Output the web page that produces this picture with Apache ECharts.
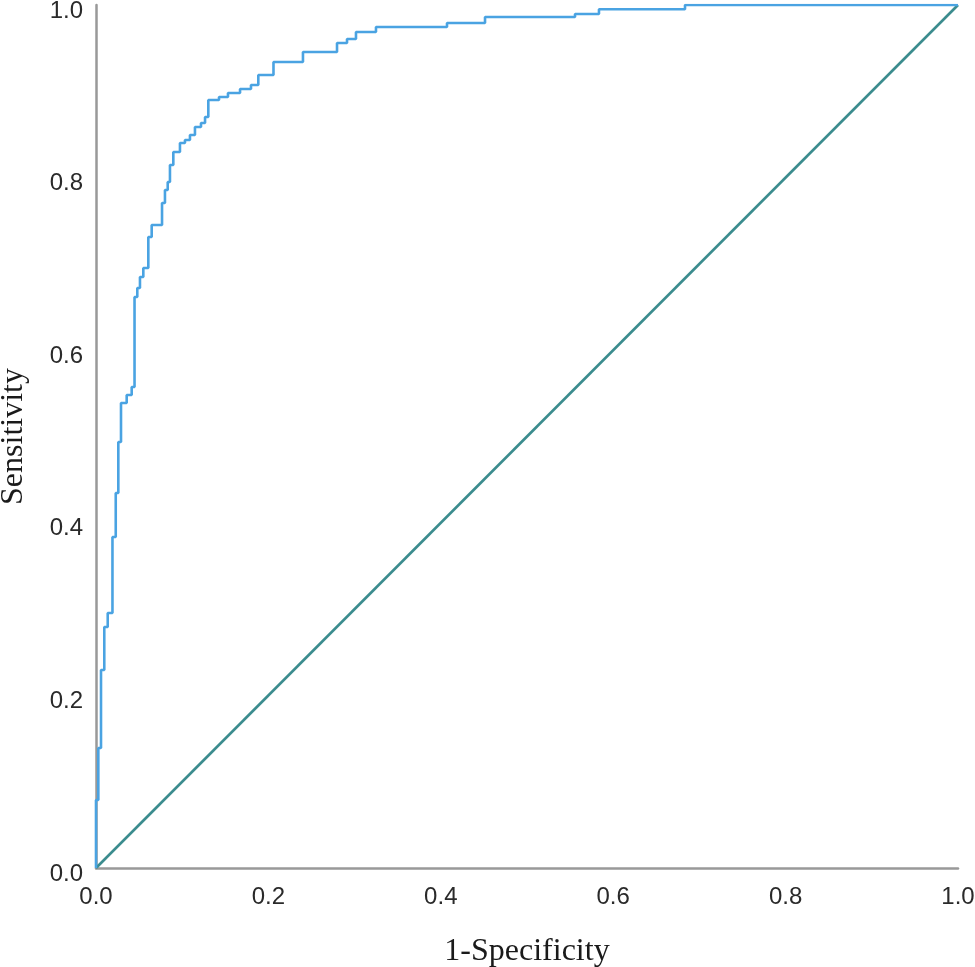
<!DOCTYPE html>
<html>
<head>
<meta charset="utf-8">
<script src="https://cdn.jsdelivr.net/npm/echarts@6/dist/echarts.min.js"></script>
<style>
html,body{margin:0;padding:0;background:#fff;}
#c{width:975px;height:967px;}
</style>
</head>
<body>
<div id="c"></div>
<script>
// ROC curve vertices (1-Specificity, Sensitivity)
const fpr = [0, 0, 0.0027, 0.0058, 0.0096, 0.0136, 0.0191, 0.0229, 0.0259, 0.029, 0.0356, 0.0414,
  0.0447, 0.0479, 0.051, 0.0549, 0.0607, 0.0646, 0.0766, 0.08, 0.0832, 0.0858, 0.0897, 0.0974,
  0.1032, 0.109, 0.1148, 0.1218, 0.1265, 0.1303, 0.1427, 0.1531, 0.1671, 0.1798, 0.1883, 0.2059,
  0.2401, 0.2796, 0.2912, 0.3016, 0.3248, 0.4072, 0.4513, 0.5557, 0.5835, 0.6833, 1.0];
const tpr = [0, 0.0788, 0.139, 0.2294, 0.2793, 0.2955, 0.3835, 0.4345, 0.4936, 0.5388, 0.5481, 0.5574,
  0.6616, 0.672, 0.6848, 0.6952, 0.7312, 0.7451, 0.7706, 0.7856, 0.7949, 0.8146, 0.8297, 0.8401,
  0.8436, 0.8494, 0.8586, 0.8633, 0.8702, 0.8899, 0.8934, 0.898, 0.9027, 0.9073, 0.9189, 0.934,
  0.9455, 0.956, 0.9606, 0.9687, 0.9745, 0.9791, 0.9861, 0.9896, 0.995, 1.0, 1.0];
const refX = [0, 1];
const refY = [0, 1];
const tickLabels = ['0.0', '0.2', '0.4', '0.6', '0.8', '1.0'];
const xTitle = '1-Specificity';
const yTitle = 'Sensitivity';

const chart = echarts.init(document.getElementById('c'), null, {renderer: 'canvas'});
const fmt = v => tickLabels[Math.round(v / 0.2)];
const axisCommon = {
  type: 'value', min: 0, max: 1, interval: 0.2,
  splitLine: {show: false},
  axisTick: {show: false},
  axisLine: {show: true, onZero: false, lineStyle: {color: '#999999', width: 2.5}},
  nameLocation: 'middle',
  nameMoveOverlap: false,
  nameTextStyle: {fontFamily: 'Liberation Serif', fontSize: 32, color: '#1a1a1a'}
};
chart.setOption({
  animation: false,
  backgroundColor: '#ffffff',
  grid: {left: 96, right: 17, top: 5, bottom: 99, containLabel: false, outerBoundsMode: 'none'},
  xAxis: Object.assign({}, axisCommon, {
    name: xTitle, nameGap: 68,
    axisLabel: {formatter: fmt, fontFamily: 'Liberation Sans', fontSize: 24, color: '#2a2a2a', margin: 17}
  }),
  yAxis: Object.assign({}, axisCommon, {
    name: yTitle, nameGap: 66, nameRotate: 90,
    axisLabel: {
      formatter: v => '{t|' + fmt(v) + '}', margin: 13,
      rich: {t: {fontFamily: 'Liberation Sans', fontSize: 24, color: '#2a2a2a', lineHeight: 24, padding: [12, 0, 0, 0]}}
    }
  }),
  series: [
    {
      type: 'line', data: refX.map((x, i) => [x, refY[i]]),
      showSymbol: false, lineStyle: {color: '#3b8c8e', width: 2.6}, z: 2
    },
    {
      type: 'line', step: 'end', data: fpr.map((x, i) => [x, tpr[i]]),
      showSymbol: false, lineStyle: {color: '#4aa3e2', width: 2.6}, z: 3
    }
  ]
});
</script>
</body>
</html>
